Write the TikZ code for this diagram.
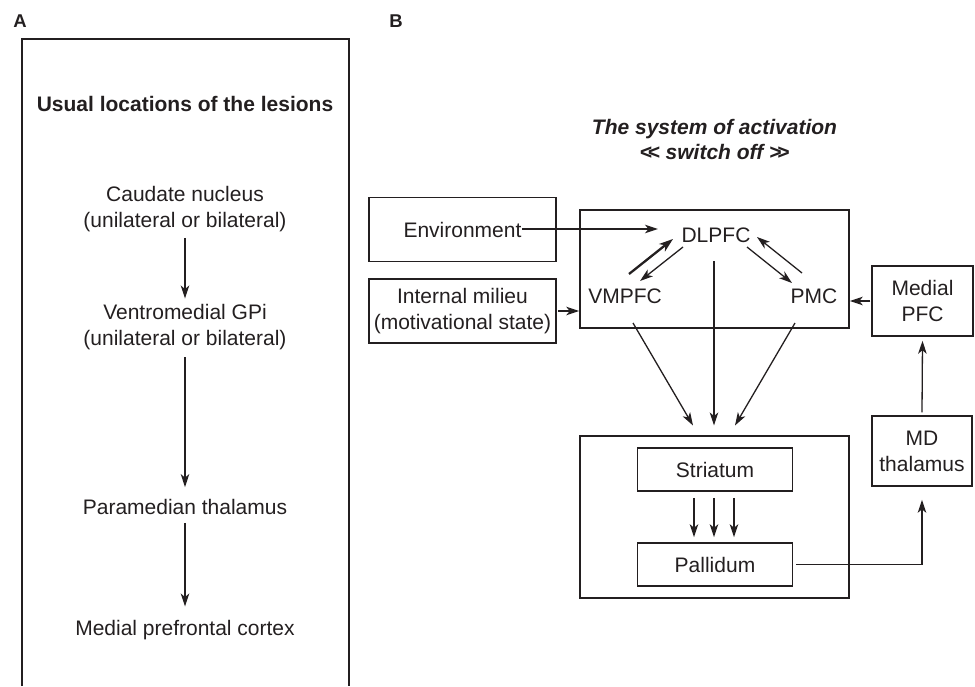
\documentclass[tikz,border=0pt]{standalone}
\usepackage{fontspec}
\setmainfont{Liberation Sans}
\usetikzlibrary{arrows.meta,calc}
\definecolor{ink}{HTML}{231F20}
\begin{document}
\begin{tikzpicture}[x=1pt,y=-1pt,
  every node/.style={text=ink, font=\fontsize{21}{26}\selectfont},
  panel/.style={font=\fontsize{18.5}{20}\selectfont\bfseries, inner sep=0pt},
  heading/.style={font=\fontsize{21}{25}\selectfont\bfseries, inner sep=0pt, align=center},
  lbl/.style={inner sep=0pt, align=center},
  box/.style={draw=ink, line width=1.5pt, inner sep=0pt, align=center},
  frame/.style={draw=ink, line width=1.5pt},
  tip/.style={-{Stealth[length=13pt,width=8.5pt,inset=3.5pt]}},
  arr/.style={draw=ink, line width=1.3pt, tip},
  thick arr/.style={draw=ink, line width=2.3pt, -{Stealth[length=14pt,width=9.5pt,inset=4pt]}}]
\useasboundingbox (0,0) rectangle (975,686);

% ---------------- Panel A ----------------
\node[panel] (labA) at (20,21) {A};
\draw[frame] (22,686) -- (22,39) -- (349,39) -- (349,686);
\node[heading] (ttlA) at (185,104) {Usual locations of the lesions};
\node[lbl] (caud) at (185,209) {Caudate nucleus\\(unilateral or bilateral)};
\node[lbl] (vgpi) at (185,327.5) {Ventromedial GPi\\(unilateral or bilateral)};
\node[lbl] (para) at (185,507) {Paramedian thalamus};
\node[lbl] (mpc) at (185,630.5) {Medial prefrontal cortex};
\draw[arr, shorten <=6pt, shorten >=6pt] (caud) -- (vgpi);
\draw[arr, shorten <=7pt, shorten >=12pt] (vgpi) -- (para);
\draw[arr, shorten <=8pt, shorten >=14pt] (para) -- (mpc);

% ---------------- Panel B ----------------
\node[panel] (labB) at (396,21) {B};
\node[heading, font=\fontsize{21}{25}\selectfont\bfseries\itshape] (ttlB) at (714.5,139.5)
  {The system of activation\\\mbox{<\kern-0.2em<} switch off \mbox{>\kern-0.2em>}};

\node[box, minimum width=187pt, minimum height=64pt] (env) at (462.5,229.5) {Environment};
\node[box, minimum width=187pt, minimum height=64pt] (intm) at (462.5,311) {Internal milieu\\(motivational state)};

% cortical loop
\node[box, minimum width=269pt, minimum height=118pt] (ctx) at (714.5,269) {};
\node[lbl] (dlpfc) at (716,235) {DLPFC};
\node[lbl] (vmpfc) at (625,296) {VMPFC};
\node[lbl] (pmc) at (814,296) {PMC};

\node[box, minimum width=101pt, minimum height=70pt] (mpfc) at (922.5,301) {Medial\\PFC};
\node[box, minimum width=100pt, minimum height=70pt] (mdth) at (922,451) {MD\\thalamus};

% basal ganglia
\node[box, line width=2pt, minimum width=269pt, minimum height=162pt] (bg) at (714.5,516.5) {};
\node[box, minimum width=155pt, minimum height=43pt] (str) at (715,469.5) {Striatum};
\node[box, minimum width=155pt, minimum height=43pt] (pal) at (715,564.5) {Pallidum};

% inputs to the cortical loop
\draw[arr] ($(env.center)+(59.5,-0.5)$) -- ($(dlpfc.center)+(-58,-6)$);
\draw[arr] ($(intm.east)+(1,0)$) -- (ctx.west |- intm.east);
\draw[arr] ($(mpfc.west)+(-1,0)$) -- (ctx.east |- mpfc.west);

% exchanges within the loop
\draw[thick arr] ($(vmpfc.center)+(4,-22)$) -- ($(dlpfc.center)+(-43,4)$);
\draw[arr] ($(dlpfc.center)+(-33,12)$) -- ($(vmpfc.center)+(15,-15)$);
\draw[arr] ($(dlpfc.center)+(31,12)$) -- ($(pmc.center)+(-22,-13)$);
\draw[arr] ($(pmc.center)+(-12,-23)$) -- ($(dlpfc.center)+(41,2)$);

% cortex to basal ganglia
\draw[arr] ($(vmpfc.center)+(8,27)$) -- ($(bg.north)+(-21.5,-9)$);
\draw[arr] ($(dlpfc.center)+(-2,26)$) -- ($(bg.north)+(-0.5,-9)$);
\draw[arr] ($(pmc.center)+(-19,27)$) -- ($(bg.north)+(20.5,-9)$);

% striatum to pallidum
\foreach \dx in {-21,-1,19}
  \draw[arr] ($(str.south)+(\dx,6)$) -- ($(pal.north)+(\dx,-5)$);

% return loop through the thalamus
\draw[arr] ($(pal.east)+(3,0)$) -| ($(mdth.south)+(0,13)$);
\draw[arr] ($(mdth.north)+(0,-3)$) -- ($(mpfc.south)+(0,4)$);
\end{tikzpicture}
\end{document}
